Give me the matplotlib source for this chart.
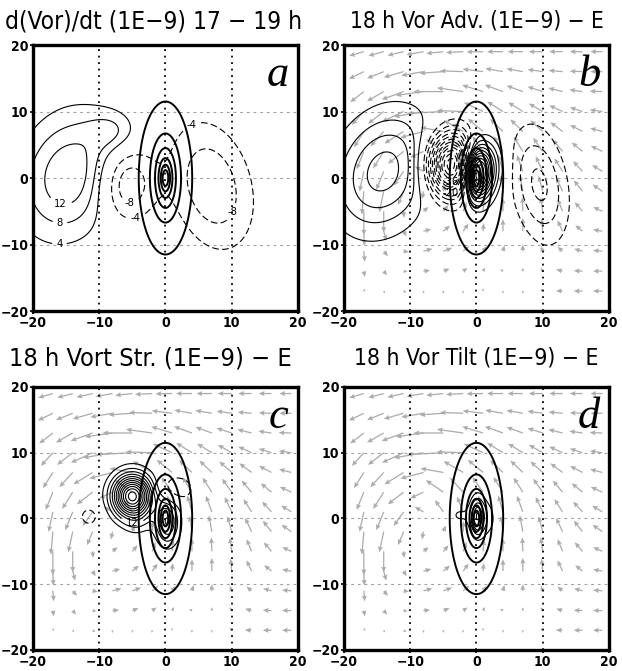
import os
import numpy as np
import matplotlib
matplotlib.use('Agg')
import matplotlib.pyplot as plt
from matplotlib import font_manager
from matplotlib.font_manager import FontProperties

names = {f.name for f in font_manager.fontManager.ttflist}
serif = 'Liberation Serif' if 'Liberation Serif' in names else 'DejaVu Serif'


def narrow_font(bold):
    # look for a condensed / narrow face, the GrADS lettering is narrow
    for f in sorted(font_manager.fontManager.ttflist, key=lambda f: f.fname):
        fn = os.path.basename(f.fname)
        if not any(k in fn for k in ('Narrow', 'Condensed')):
            continue
        if any(k in fn for k in ('Italic', 'Oblique', 'Mono', 'Serif')):
            continue
        if ('Bold' in fn) == bold:
            return f.fname
    return None


title_file = narrow_font(False)
tick_file = narrow_font(True)

# grid of the fields
x = np.linspace(-20, 20, 401)
y = np.linspace(-20, 20, 401)
X, Y = np.meshgrid(x, y)

# vortex overlay (same in every panel): elliptic radius levels
vort_aspect = 2.85
vort_levels = [1.2, 2.0, 3.0, 4.5, 6.7, 11.5]

# blobs of each tendency field: centre x, centre y, amplitude, sigma x, sigma y, tilt (deg)
a_cx = [-14.5, -8.0, -6.0, 7.0]
a_cy = [0.5, 7.0, -0.8, -1.2]
a_amp = [15.5, 6.0, -13.5, -11.5]
a_sx = [5.0, 2.5, 3.0, 4.1]
a_sy = [6.5, 2.0, 3.9, 6.7]
a_rot = [-20, 0, 0, 15]

b_cx = [-14.0, -3.5, 0.0, 2.5, 9.5]
b_cy = [1.0, 2.0, 1.0, 2.0, -1.0]
b_amp = [18.0, -55.0, 60.0, 8.0, -13.0]
b_sx = [4.8, 2.6, 1.5, 1.5, 2.8]
b_sy = [6.3, 3.2, 2.8, 3.0, 6.0]
b_rot = [-25, 0, 0, 0, 10]

c_cx = [-5.0, -4.2, -11.5, 0.3, 1.5]
c_cy = [3.4, -0.3, 0.3, -0.5, 4.5]
c_amp = [50.0, 4.0, -5.5, 16.0, -8.0]
c_sx = [2.0, 1.4, 1.3, 1.3, 2.0]
c_sy = [2.2, 1.6, 1.3, 2.5, 1.5]
c_rot = [0, 0, 0, 0, 0]

d_cx = [0.2, -2.5, 2.0]
d_cy = [0.3, 0.5, 0.0]
d_amp = [20.0, 4.5, 4.5]
d_sx = [0.8, 1.2, 0.8]
d_sy = [2.0, 1.0, 2.0]
d_rot = [0, 0, 0]

# 18 h wind vectors (tails on a 3-unit grid), direction in deg and drawn length
wind_x = [-17, -14, -11, -8, -5, -2, 1, 4, 7, 10, 13, 16, 19]
wind_y = [19, 16, 13, 10, 7, 4, 1, -2, -5, -8, -11, -14, -17]
wind_dir = [
    [196, 195, 193, 190, 186, 183, 181, 180, 180, 180, 180, 180, 180],
    [206, 202, 196, 190, 184, 178, 173, 170, 170, 172, 175, 178, 180],
    [218, 210, 200, 188, 180, 172, 163, 160, 160, 162, 166, 172, 178],
    [228, 218, 205, 190, 183, 178, 155, 148, 148, 150, 155, 162, 172],
    [238, 228, 212, 195, 170, 150, 140, 136, 136, 138, 143, 152, 165],
    [248, 238, 218, 205, 145, 132, 125, 122, 122, 125, 130, 140, 155],
    [258, 248, 235, 150, 125, 112, 106, 106, 110, 115, 122, 132, 148],
    [265, 258, 248, 260, 70, 88, 95, 98, 100, 105, 115, 128, 145],
    [270, 270, 275, 40, 50, 70, 85, 90, 92, 98, 112, 130, 155],
    [272, 285, 300, 15, 40, 55, 85, 90, 90, 95, 115, 140, 170],
    [275, 310, 350, 15, 20, 40, 55, 75, 90, 110, 140, 165, 175],
    [280, 310, 350, 5, 20, 35, 60, 150, 90, 120, 165, 178, 180],
    [60, 300, 330, 270, 270, 260, 90, 270, 270, 135, 178, 180, 180],
]
wind_len = [
    [2.3, 2.4, 2.5, 2.6, 2.6, 2.6, 2.5, 2.4, 2.3, 2.1, 2.0, 1.9, 1.8],
    [2.5, 2.7, 3.1, 3.4, 3.6, 3.5, 3.1, 2.7, 2.5, 2.3, 2.1, 1.9, 1.8],
    [2.6, 2.9, 3.5, 4.2, 4.5, 4.0, 3.3, 2.9, 2.6, 2.4, 2.2, 2.0, 1.9],
    [2.7, 3.0, 3.6, 4.5, 5.5, 4.0, 3.2, 2.8, 2.6, 2.4, 2.2, 2.0, 1.9],
    [2.8, 3.0, 3.4, 3.6, 3.5, 3.4, 3.0, 2.7, 2.6, 2.5, 2.3, 2.1, 1.9],
    [2.9, 3.0, 3.0, 2.2, 3.2, 3.0, 2.8, 2.7, 2.6, 2.5, 2.3, 2.1, 1.9],
    [3.1, 3.0, 2.6, 1.5, 2.2, 2.5, 2.6, 2.6, 2.6, 2.5, 2.3, 2.1, 1.8],
    [3.5, 3.2, 2.2, 1.2, 1.0, 1.6, 2.1, 2.4, 2.5, 2.4, 2.3, 2.1, 1.8],
    [3.6, 3.2, 1.0, 1.0, 1.2, 1.5, 1.8, 2.0, 2.1, 2.1, 2.0, 1.8, 1.5],
    [2.2, 1.5, 0.9, 1.2, 1.3, 1.4, 1.2, 1.8, 2.0, 1.9, 1.8, 1.4, 1.4],
    [1.6, 1.0, 0.8, 1.4, 1.4, 1.2, 0.9, 0.9, 1.0, 0.8, 1.0, 1.3, 1.4],
    [0.9, 0.8, 0.6, 1.0, 1.0, 0.8, 0.6, 0.5, 0.5, 0.6, 1.0, 1.3, 1.4],
    [0.4, 0.4, 0.5, 0.4, 0.4, 0.4, 0.4, 0.4, 0.4, 0.5, 1.0, 1.3, 1.4],
]

titles = ['d(Vor)/dt (1E\u22129) 17 \u2212 19 h',
          '18 h Vor Adv. (1E\u22129) \u2212 E',
          '18 h Vort Str. (1E\u22129) \u2212 E',
          '18 h Vor Tilt (1E\u22129) \u2212 E']
title_width_px = [297, 255, 285, 245]
letters = ['a', 'b', 'c', 'd']
ticks = [-20, -10, 0, 10, 20]


def blobs(cx, cy, amp, sx, sy, rot):
    Z = np.zeros_like(X)
    for x0, y0, a, s1, s2, r in zip(cx, cy, amp, sx, sy, rot):
        t = np.deg2rad(r)
        dx, dy = X - x0, Y - y0
        xr = dx * np.cos(t) + dy * np.sin(t)
        yr = -dx * np.sin(t) + dy * np.cos(t)
        Z += a * np.exp(-0.5 * ((xr / s1) ** 2 + (yr / s2) ** 2))
    return Z


fields = [blobs(a_cx, a_cy, a_amp, a_sx, a_sy, a_rot),
          blobs(b_cx, b_cy, b_amp, b_sx, b_sy, b_rot),
          blobs(c_cx, c_cy, c_amp, c_sx, c_sy, c_rot),
          blobs(d_cx, d_cy, d_amp, d_sx, d_sy, d_rot)]
vort = np.sqrt((X * vort_aspect) ** 2 + Y ** 2)

pos_levels = np.arange(4, 64, 4)
neg_levels = -pos_levels[::-1]

# label positions on the contours
labels = [
    [(-16, -4.5), (-16, -7.6), (-16, -11), (-5.4, -4.3), (-4.4, -6.8), (3.6, 8.7), (8.3, -4.3)],
    [(-3.9, -0.6), (-3.9, -2.2)],
    [(-5.0, -0.6)],
    [],
]

WU, WV = [], []
for drow, lrow in zip(wind_dir, wind_len):
    th = np.deg2rad(drow)
    WU.append(np.array(lrow) * np.cos(th))
    WV.append(np.array(lrow) * np.sin(th))
WX, WY = np.meshgrid(wind_x, wind_y)

fig = plt.figure(figsize=(6.22, 6.71), dpi=100)
axpos = [[0.053, 0.5365, 0.426, 0.3964], [0.553, 0.5365, 0.426, 0.3964],
         [0.053, 0.0313, 0.426, 0.392], [0.553, 0.0313, 0.426, 0.392]]
titlepos = [(0.247, 0.968), (0.767, 0.968), (0.241, 0.466), (0.765, 0.466)]

if tick_file:
    tick_fp = FontProperties(fname=tick_file, size=10)
else:
    tick_fp = FontProperties(family='DejaVu Sans', weight='bold', size=8.5)
if title_file:
    label_fp = FontProperties(fname=title_file, size=8)
else:
    label_fp = FontProperties(family='DejaVu Sans', size=7)

renderer = fig.canvas.get_renderer()

for i in range(4):
    ax = fig.add_axes(axpos[i])
    ax.set_xlim(-20, 20)
    ax.set_ylim(-20, 20)
    if i > 0:
        ax.quiver(WX, WY, np.array(WU), np.array(WV), angles='xy', scale_units='xy',
                  scale=1, pivot='tail', color='#acacac', width=0.0048,
                  headwidth=4, headlength=4.5, headaxislength=4, zorder=1)
    for g in [-10, 0, 10]:
        ax.axvline(g, color='black', lw=1.3, ls=(0, (1, 2.6)), zorder=2)
        ax.axhline(g, color='#a0a0a0', lw=0.8, ls=(0, (2.5, 3.5)), zorder=2)
    Z = fields[i]
    cp = ax.contour(X, Y, Z, levels=pos_levels, colors='black', linewidths=0.8, zorder=3)
    cn = ax.contour(X, Y, Z, levels=neg_levels, colors='black', linewidths=0.8,
                    linestyles=[(0, (6, 3))], zorder=3)
    ax.contour(X, Y, vort, levels=vort_levels, colors='black', linewidths=1.4, zorder=4)
    for (lx, ly) in labels[i]:
        cs = cp if Z[np.abs(y - ly).argmin(), np.abs(x - lx).argmin()] > 0 else cn
        for t in ax.clabel(cs, fmt='%d', inline=True, inline_spacing=3, manual=[(lx, ly)]):
            t.set_rotation(0)
            t.set_fontproperties(label_fp)
    ax.text(17, 15.5, letters[i], family=serif, style='italic', fontsize=32,
            ha='center', va='center', zorder=5)
    ax.set_xticks(ticks)
    ax.set_yticks(ticks)
    ax.set_xticklabels([str(t).replace('-', '\u2212') for t in ticks], fontproperties=tick_fp)
    ax.set_yticklabels([str(t).replace('-', '\u2212') for t in ticks], fontproperties=tick_fp)
    ax.tick_params(direction='out', length=2.5, width=1.2, pad=0.8,
                   top=False, right=False)
    for s in ax.spines.values():
        s.set_linewidth(2.4)

    # titles: scale the narrow face so the line spans the same width as the original
    if title_file:
        fp = FontProperties(fname=title_file, size=16)
    else:
        fp = FontProperties(family='DejaVu Sans', size=15.5)
    t = fig.text(titlepos[i][0], titlepos[i][1], titles[i], fontproperties=fp,
                 ha='center', va='center')
    w = t.get_window_extent(renderer).width
    t.set_fontsize(min(22, fp.get_size() * title_width_px[i] / w))

fig.savefig('out.png', dpi=100)
